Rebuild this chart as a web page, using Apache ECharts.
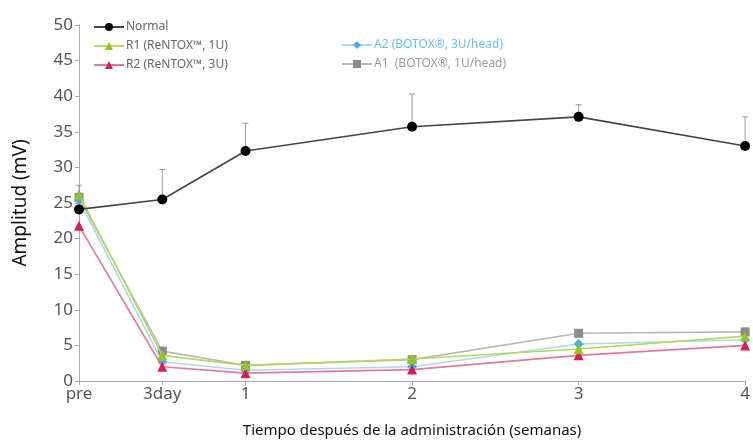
<!DOCTYPE html>
<html><head><meta charset="utf-8">
<script src="https://cdn.jsdelivr.net/npm/echarts@6/dist/echarts.min.js"></script>
<style>html,body{margin:0;padding:0;background:#fff}#c{width:753px;height:443px}</style>
</head><body><div id="c"></div>
<script>
const xPositions = [0, 0.5, 1, 2, 3, 4];
const xLabels = ['pre', '3day', '1', '2', '3', '4'];
const normal = [24.1, 25.5, 32.3, 35.7, 37.1, 33.0];
const normalErrTop = [27.5, 29.7, 36.2, 40.3, 38.8, 37.1];
const r1 = [26.2, 3.6, 2.2, 3.1, 4.5, 6.3];
const r2 = [21.8, 2.0, 1.1, 1.6, 3.6, 5.0];
const a2 = [25.4, 2.7, 1.5, 2.0, 5.2, 5.8];
const a1 = [25.8, 4.2, 2.2, 3.0, 6.7, 6.9];
const names = ['Normal', 'R1 (ReNTOX\u2122, 1U)', 'R2 (ReNTOX\u2122, 3U)', 'A2 (BOTOX\u00ae, 3U/head)', 'A1  (BOTOX\u00ae, 1U/head)'];

const pair = arr => arr.map((v, i) => [xPositions[i], v]);
const font = 'Noto Sans';

const chart = echarts.init(document.getElementById('c'));
function mk(name, data, lineColor, symColor, symbol, size, z) {
  return {
    name, type: 'line', data: pair(data), symbol, symbolSize: size, z,
    lineStyle: { color: lineColor, width: 1.6 },
    itemStyle: { color: symColor },
    emphasis: { disabled: true }, animation: false
  };
}
chart.setOption({
  animation: false,
  textStyle: { fontFamily: font },
  grid: { left: 79, right: 1, top: 25, bottom: 55, containLabel: false },
  legend: [
    { orient: 'vertical', left: 88, top: 16, itemGap: 7, itemWidth: 30, itemHeight: 10,
      data: [
        { name: names[0], textStyle: { color: '#666' } },
        { name: names[1], textStyle: { color: '#666' } },
        { name: names[2], textStyle: { color: '#666' } }
      ],
      textStyle: { fontSize: 12, fontFamily: font, padding: [0, 0, 0, -3] } },
    { orient: 'vertical', left: 336, top: 34, itemGap: 7, itemWidth: 30, itemHeight: 10,
      data: [
        { name: names[3], textStyle: { color: '#6bbfe8' } },
        { name: names[4], textStyle: { color: '#999' } }
      ],
      textStyle: { fontSize: 12, fontFamily: font, padding: [0, 0, 0, -3] } }
  ],
  xAxis: {
    type: 'value', min: 0, max: 4, interval: 0.5,
    name: 'Tiempo despu\u00e9s de la administraci\u00f3n (semanas)',
    nameLocation: 'middle', nameGap: 42,
    nameTextStyle: { fontSize: 15, color: '#111', fontFamily: font },
    axisLine: { lineStyle: { color: '#aaa', width: 1 } },
    axisTick: { show: true, length: 4, lineStyle: { color: '#aaa' }, customValues: xPositions },
    axisLabel: { fontSize: 17, color: '#555', margin: 5, showMaxLabel: true, customValues: xPositions,
      formatter: v => { const i = xPositions.indexOf(v); return i >= 0 ? xLabels[i] : ''; } },
    splitLine: { show: false }
  },
  yAxis: {
    type: 'value', min: 0, max: 50, interval: 5,
    name: 'Amplitud (mV)', nameLocation: 'middle', nameGap: 49, nameRotate: 90,
    nameTextStyle: { fontSize: 19, color: '#111', fontFamily: font },
    axisLine: { show: true, lineStyle: { color: '#aaa', width: 1 } },
    axisTick: { show: true, length: 4, lineStyle: { color: '#aaa' } },
    axisLabel: { fontSize: 17, color: '#555', margin: 6 },
    splitLine: { show: false }
  },
  series: [
    mk(names[4], a1, '#b8b8b8', '#8c8c8c', 'rect', 9, 2),
    mk(names[3], a2, '#a9d9f2', '#4aaee6', 'diamond', 10, 3),
    mk(names[2], r2, '#e07a98', '#d41f55', 'triangle', 10, 4),
    mk(names[1], r1, '#b7d85a', '#95c51c', 'triangle', 10, 5),
    {
      type: 'custom', z: 6, animation: false, silent: true,
      data: normal.map((v, i) => [xPositions[i], v, normalErrTop[i]]),
      renderItem: (params, api) => {
        const p0 = api.coord([api.value(0), api.value(1)]);
        const p1 = api.coord([api.value(0), api.value(2)]);
        return { type: 'group', children: [
          { type: 'line', shape: { x1: p0[0], y1: p0[1], x2: p1[0], y2: p1[1] }, style: { stroke: '#999', lineWidth: 1 } },
          { type: 'line', shape: { x1: p1[0] - 3, y1: p1[1], x2: p1[0] + 3, y2: p1[1] }, style: { stroke: '#999', lineWidth: 1 } }
        ] };
      }
    },
    mk(names[0], normal, '#444', '#000', 'circle', 10, 7)
  ]
});
</script></body></html>
